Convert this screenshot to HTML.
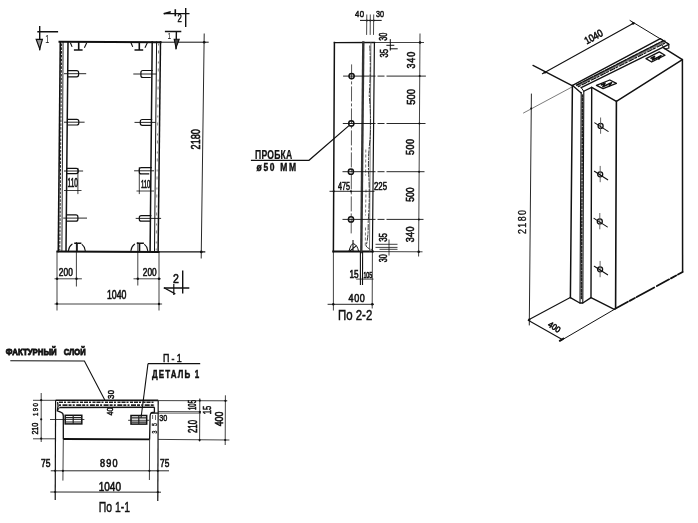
<!DOCTYPE html>
<html><head><meta charset="utf-8">
<style>
html,body{margin:0;padding:0;background:#fff;width:698px;height:523px;overflow:hidden}
svg{display:block;will-change:transform}
text{font-family:"Liberation Sans",sans-serif;fill:#111}

</style></head>
<body>
<svg width="698" height="523" viewBox="0 0 698 523">

<g fill="none" stroke="#111" stroke-linecap="square">

<!-- ============ LEFT ELEVATION ============ -->
<!-- outline -->
<path d="M59.5 41.8 L160.5 42.2" stroke-width="2"/>
<path d="M57.5 251.4 L158.5 251.9" stroke-width="2"/>
<path d="M160.5 42.2 L208.2 42.2" stroke-width="1"/>
<path d="M158.5 251.9 L204.7 251.9" stroke-width="1.2"/>
<path d="M60.3 41.8 L58.3 251.4" stroke-width="1.6"/>
<path d="M63.1 42 L61.9 251" stroke-width="0.9"/>
<path d="M61.6 44 L59.8 250" stroke-width="1" stroke-dasharray="1.6 2.2" stroke="#222"/>
<path d="M68 42 L66 251" stroke-width="1.5"/>
<path d="M152.2 42 L150.1 251" stroke-width="1.5"/>
<path d="M156.6 42 L154.5 251" stroke-width="1"/>
<path d="M158.6 44 L156.2 250" stroke-width="0.8" stroke-dasharray="1 6 2 9" stroke="#666"/>
<path d="M160.5 42 L158.1 251.5" stroke-width="1.5"/>

<!-- right vertical dim -->
<path d="M204.2 34 L201.2 258" stroke-width="0.9"/>
<g fill="#111" stroke="none"><circle cx="204.2" cy="42.3" r="1.3"/><circle cx="201.3" cy="251.9" r="1.3"/></g>

<!-- top anchors -->
<path d="M78.7 42.7 L78.7 50 M74.7 50 L81.8 50" stroke-width="1.6"/>
<path d="M70.6 43.2 L71.9 46.4 M86.5 43.2 L84.6 47.3" stroke-width="1.1"/>
<path d="M139.3 42.7 L139.3 50 M135.3 50 L142.4 50" stroke-width="1.6"/>
<path d="M131.2 43.2 L132.5 46.4 M147.1 43.2 L145.2 47.3" stroke-width="1.1"/>
<!-- bottom anchors -->
<path d="M77 243.5 L77 251 M75 243.2 L80.6 243.2" stroke-width="1.6"/>
<path d="M68.5 250.5 Q69 246.2 72 244.2 M82.2 244.6 Q84.8 246.5 85.2 250.5" stroke-width="1.1"/>
<path d="M139.5 243.5 L139.5 251 M137.5 243.2 L143.1 243.2" stroke-width="1.6"/>
<path d="M131 250.5 Q131.5 246.2 134.5 244.2 M144.7 244.6 Q147.3 246.5 147.7 250.5" stroke-width="1.1"/>

<!-- sockets -->
<path d="M68.3 70.6 L76.6 70.6 Q78.6 70.6 78.6 72.6 L78.6 74.8 Q78.6 76.8 76.6 76.8 L68.3 76.8" stroke-width="1.2" stroke-dasharray="4 1.2 20"/>
<path d="M64.5 73.7 L85.7 73.7" stroke-width="0.9"/>
<path d="M68.0 119.3 L76.8 119.3 Q78.8 119.3 78.8 121.3 L78.8 123.0 Q78.8 125.0 76.8 125.0 L68.0 125.0" stroke-width="1.2" stroke-dasharray="4 1.2 20"/>
<path d="M64.5 122.2 L84.1 122.2" stroke-width="0.9"/>
<path d="M67.4 168.4 L76.2 168.4 Q78.2 168.4 78.2 170.4 L78.2 171.6 Q78.2 173.6 76.2 173.6 L67.4 173.6" stroke-width="1.2" stroke-dasharray="4 1.2 20"/>
<path d="M64.5 171.0 L82.6 171.0" stroke-width="0.9"/>
<path d="M67.0 214.9 L75.9 214.9 Q77.9 214.9 77.9 216.9 L77.9 219.2 Q77.9 221.2 75.9 221.2 L67.0 221.2" stroke-width="1.2" stroke-dasharray="4 1.2 20"/>
<path d="M63.7 218.1 L86.5 218.1" stroke-width="0.9"/>
<path d="M152.2 70.5 L142.9 70.5 Q140.9 70.5 140.9 72.5 L140.9 75.5 Q140.9 77.5 142.9 77.5 L152.2 77.5" stroke-width="1.2" stroke-dasharray="4 1.2 20"/>
<path d="M133.8 74.0 L156 74.0" stroke-width="0.9"/>
<path d="M151.6 119.5 L142.3 119.5 Q140.3 119.5 140.3 121.5 L140.3 123.3 Q140.3 125.3 142.3 125.3 L151.6 125.3" stroke-width="1.2" stroke-dasharray="4 1.2 20"/>
<path d="M135 122.4 L155.1 122.4" stroke-width="0.9"/>
<path d="M151.2 167.6 L141.3 167.6 Q139.3 167.6 139.3 169.6 L139.3 171.9 Q139.3 173.9 141.3 173.9 L151.2 173.9" stroke-width="1.2" stroke-dasharray="4 1.2 20"/>
<path d="M134.6 170.8 L153.5 170.8" stroke-width="0.9"/>
<path d="M150.8 215.7 L141.3 215.7 Q139.3 215.7 139.3 217.7 L139.3 219.2 Q139.3 221.2 141.3 221.2 L150.8 221.2" stroke-width="1.2" stroke-dasharray="4 1.2 20"/>
<path d="M136.2 218.4 L160.6 218.4" stroke-width="0.9"/>
<!-- 110 dims -->
<path d="M77.9 168.4 L77.9 193.6 M64.5 190.5 L81 190.5" stroke-width="0.8"/>
<path d="M139.3 167.6 L139.3 193.6 M137 191 L153.5 191" stroke-width="0.8"/>

<!-- bottom dims -->
<path d="M57 251.4 L57 310 M159 251.6 L159 310" stroke-width="0.8"/>
<path d="M76.4 242.5 L76.4 286 M137.8 242.5 L137.8 285" stroke-width="0.8"/>
<path d="M55 278.8 L81.4 278.8 M134 278.8 L160.3 278.8" stroke-width="0.8"/>
<path d="M55 304 L161.6 304" stroke-width="0.8"/>
<g fill="#111" stroke="none"><circle cx="57.1" cy="278.7" r="1.2"/><circle cx="76.5" cy="278.7" r="1.2"/><circle cx="137.8" cy="278.7" r="1.2"/><circle cx="159" cy="278.7" r="1.2"/><circle cx="57" cy="303.8" r="1.2"/><circle cx="159" cy="304" r="1.2"/></g>

<!-- section marks -->
<path d="M39.7 26.7 L39.7 49.5 M38 31.7 L57.4 31.7" stroke-width="1.4"/>
<path d="M36.2 39.4 L42.4 39.4 L39.7 48.8 Z" stroke-width="1.2" fill="#999"/>
<path d="M164.5 13.6 L188.8 13.6 M185.7 8.6 L185.7 26.2" stroke-width="1.4"/>
<path d="M164.5 13.6 L170 12 M175.3 10 L175.3 15.5" stroke-width="1.6"/>
<path d="M165.6 31.5 L180.6 31.5 M176.4 31.5 L176.1 48.5" stroke-width="1.4"/>
<path d="M174.2 39.2 L179.2 39.2 L176 47.8 Z" stroke-width="1.1" fill="#444"/>
<path d="M182.7 271.2 L182.7 292.7 M164.5 288 L188.6 288" stroke-width="1.4"/>
<path d="M164.5 288 L174.8 293.6 M173.8 284.5 L173.8 294.5" stroke-width="1.2"/>
</g>

<!-- left elevation texts -->



<!-- ============ MIDDLE SECTION 2-2 ============ -->
<g fill="none" stroke="#111" stroke-linecap="square">
<path d="M334.5 42.6 L374.5 42.5" stroke-width="1.4"/>
<path d="M374.5 42.5 L423.5 42.5" stroke-width="0.8"/>
<path d="M333.3 251.6 L372.8 251.6" stroke-width="2"/>
<path d="M372.8 251.6 L422 251.8" stroke-width="0.8"/>
<path d="M334.4 42.6 L333.4 251.6" stroke-width="1.5"/>
<path d="M333.4 251.6 L333.4 310" stroke-width="0.8"/>
<!-- strip -->
<path d="M363.3 42.5 L361.3 252" stroke-width="2.4" stroke="#333"/>
<path d="M360.4 252 L360.4 284.5" stroke-width="1.1"/>
<path d="M370.9 42.5 L369.5 251" stroke-width="0.8" stroke="#555"/>
<path d="M374.4 42.5 L372.4 252" stroke-width="1.2"/>
<path d="M362.6 252 L362.5 284.5" stroke-width="1.1"/>
<path d="M372.4 252 L372.2 308" stroke-width="0.8"/>
<path d="M369.8 46 Q371 70 369.2 95 Q371.5 120 370 140 Q367.5 160 369 180 Q369.8 200 368.2 222 Q368.5 238 366 246 Q368 249 372 249.5" stroke-width="1" stroke-dasharray="5 2 1.5 2" stroke="#333"/>
<path d="M365.8 150 L365.6 175 M366 190 L365.5 215 M365.5 228 L365.3 245" stroke-width="0.8" stroke-dasharray="2 3" stroke="#555"/>
<!-- right dim -->
<path d="M420 34 L418.6 256" stroke-width="0.8"/>
<g fill="#111" stroke="none"><circle cx="420" cy="42.5" r="1.3"/><circle cx="418.7" cy="251.8" r="1.3"/><circle cx="419.7" cy="76.1" r="1"/><circle cx="419.4" cy="123.5" r="1"/><circle cx="419.1" cy="171.7" r="1"/><circle cx="418.9" cy="219.4" r="1"/></g>
<!-- hole lines -->
<g stroke-width="0.9">
<path d="M343.6 76.1 L375 76.1 M378 76.1 L384 76.1 M387 76.1 L425.4 76.1"/>
<path d="M343.3 123.5 L375 123.5 M378 123.5 L384 123.5 M387 123.5 L425 123.5"/>
<path d="M343 171.7 L375 171.7 M378 171.7 L384 171.7 M387 171.7 L424 171.7"/>
<path d="M343 219.4 L375 219.4 M378 219.4 L384 219.4 M387 219.4 L423 219.4"/>
<path d="M351.6 64.9 L351.2 234" stroke-dasharray="14 3 2 3" stroke-width="0.7"/>
</g>
<g stroke-width="1.5">
<circle cx="351.6" cy="76.1" r="2.6" fill="none"/>
<circle cx="351.3" cy="123.4" r="2.6" fill="none"/>
<circle cx="350.9" cy="171.7" r="2.6" fill="none"/>
<circle cx="351" cy="219.4" r="2.6" fill="none"/>
</g>
<!-- leader probka -->
<path d="M251.5 160.3 L309 160.3 L348.5 126" stroke-width="1.2"/>
<!-- anchor bottom -->
<path d="M349 251 Q351 243.5 353.5 243.7 Q357.5 245 358.5 251" stroke-width="1"/>
<path d="M353 240.5 L353 251 M350 251 L356 246" stroke-width="1.1"/>
<!-- top dims 40/30 -->
<path d="M360.5 20.4 L381.2 20.4" stroke-width="1"/>
<g fill="#111" stroke="none"><circle cx="366.8" cy="20.4" r="1"/><circle cx="370.3" cy="20.4" r="1"/><circle cx="373.7" cy="20.4" r="1"/></g>
<path d="M366.8 15 L366.6 34.4 M370.3 15 L370.2 34.4 M373.7 15 L373.5 34.4" stroke-width="0.9" stroke="#333"/>
<!-- small dims right of top -->
<path d="M390.3 39.6 L390.3 50 M386.9 45.3 L393.8 45.3 M390.3 48.8 L397.2 48.8" stroke-width="1"/>
<path d="M376 244.3 L397 244.3 M376 247.4 L397 247.4 M380 249.3 L397 249.3 M389 240 L389 255" stroke-width="0.8"/>
<!-- bottom dims -->
<path d="M356.7 279.1 L373 279.1" stroke-width="0.8"/>
<path d="M328.1 304.3 L373.4 304.3" stroke-width="0.9"/>
<g fill="#111" stroke="none"><circle cx="333.3" cy="304.3" r="1.2"/><circle cx="372.3" cy="304.3" r="1.2"/></g>
<path d="M330 191.3 L374 191.3" stroke-width="0.9"/>
<g fill="#111" stroke="none"><circle cx="333.7" cy="191.3" r="1.1"/><circle cx="351" cy="191.3" r="1.1"/></g>
</g>



<!-- ============ SECTION 1-1 ============ -->
<g fill="none" stroke="#111" stroke-linecap="butt">
<!-- leaders -->
<path d="M10.3 360.8 L84.4 361 L104.8 400" stroke-width="1.1"/>
<path d="M148 363.6 L200.2 363.6" stroke-width="1.2"/>
<path d="M148 363.6 L141 418" stroke-width="1.1"/>
<!-- top line -->
<path d="M55.6 400.3 L158.2 400.4" stroke-width="1.6"/>
<path d="M33 400.3 L55.6 400.3 M158.2 400.6 L227.3 400.8" stroke-width="0.8"/>
<!-- layer -->
<path d="M59.5 407.5 L154.4 407.3" stroke-width="1.4"/>
<path d="M59 402.3 L155 402.3" stroke-width="1.5" stroke-dasharray="4 1 2 1.5 3 1" stroke="#222"/>
<path d="M59 405.2 L155 405.2" stroke-width="1.7" stroke-dasharray="2 1.5 5 1 3 1.2" stroke="#222"/>
<!-- left outline -->
<path d="M55.6 400.3 L55.2 500" stroke-width="1.2"/>
<!-- left rib -->
<path d="M57.6 402 Q58.8 406 57.3 410.9 L60.7 412.2 Q63.3 413 63.3 416 L63.3 439" stroke-width="1.3"/>
<path d="M63.3 439 L62.9 480.6" stroke-width="0.8"/>
<path d="M59.5 407.5 Q58.2 409 57.6 410.5" stroke-width="1"/>
<!-- bottom line -->
<path d="M63.3 439 L149.6 439.4" stroke-width="1.8"/>
<path d="M33 438.8 L55.4 438.8 M158.2 439.4 L229.4 440" stroke-width="0.8"/>
<!-- right outline -->
<path d="M158.2 400.4 L157.8 501" stroke-width="1.2"/>
<!-- right rib -->
<path d="M154.4 407.3 L154.4 412.2 L151.5 412.7 Q150.1 413.5 150.1 416 L149.6 439.4" stroke-width="1.3"/>
<path d="M150.6 413.1 L158.2 413.1" stroke-width="1.3"/>
<path d="M149.6 439.4 L149.4 480" stroke-width="0.8"/>
<path d="M158.2 411.5 L201 411.7 M158.2 413.1 L201 413.1" stroke-width="0.7"/>
<path d="M152.6 415 L152.6 419 M155.5 415 L155.5 420" stroke-width="0.8" stroke="#444"/>
<!-- sockets -->
<g stroke-width="1.5">
<rect x="65.2" y="415.3" width="16.6" height="8.6"/>
<rect x="131" y="415.5" width="15.7" height="8.6"/>
</g>
<g stroke-width="1.2" stroke="#222">
<path d="M65.5 417.6 L81.5 417.6 M65.5 422 L81.5 422 M73.2 415.3 L73.2 424"/>
<path d="M131.3 417.8 L146.4 417.8 M131.3 422.2 L146.4 422.2 M138.8 415.5 L138.8 424.1"/>
</g>
<path d="M50 419.5 L84.4 419.5" stroke-width="0.8"/>
<path d="M128.1 420.3 L149.1 420.3" stroke-width="0.8"/>
<!-- left dims -->
<path d="M41.2 393 L41.2 442" stroke-width="0.8"/>
<!-- right dims -->
<path d="M199.8 398.4 L199.6 441.5 M225.4 395.3 L225.2 445" stroke-width="0.8"/>
<!-- bottom dims -->
<path d="M50.8 470.8 L169 470.8" stroke-width="0.9"/>
<path d="M50.3 492 L161 492.2" stroke-width="0.9"/>
</g>
<g fill="#111" stroke="none">
<circle cx="41.2" cy="400.2" r="1.1"/><circle cx="41.2" cy="419.3" r="1.1"/><circle cx="41.2" cy="438.6" r="1.1"/>
<circle cx="199.8" cy="400.6" r="1.1"/><circle cx="199.8" cy="412" r="1.1"/><circle cx="199.6" cy="440" r="1.1"/>
<circle cx="225.4" cy="400.8" r="1.1"/><circle cx="225.2" cy="440" r="1.1"/>
<circle cx="55.2" cy="470.8" r="1.1"/><circle cx="62.9" cy="470.8" r="1.1"/><circle cx="149.4" cy="470.8" r="1.1"/><circle cx="157.8" cy="470.8" r="1.1"/>
<circle cx="55.2" cy="492" r="1.1"/><circle cx="157.8" cy="492.2" r="1.1"/>
</g>

<!-- ============ 3D VIEW ============ -->
<g fill="none" stroke="#111" stroke-linecap="round" stroke-linejoin="round">
<!-- dim 1040 -->
<path d="M542.4 73.7 L633.9 22.9" stroke-width="1.1"/>
<path d="M533 65.4 L572.6 85.8" stroke-width="1.3"/>
<path d="M630 20.5 L668.8 44" stroke-width="1"/>
<g fill="#111" stroke="none"><circle cx="545" cy="72.2" r="1.3"/><circle cx="633.2" cy="23.3" r="1.4"/></g>
<!-- height dim -->
<path d="M531.4 94 L529.3 325" stroke-width="0.9"/>
<path d="M523.5 113 L572 87" stroke-width="0.7" stroke="#444"/>
<circle cx="531.2" cy="108.5" r="1" fill="#111" stroke="none"/>
<!-- 400 dim -->
<path d="M528.2 320.2 L562.2 339.6" stroke-width="1.1"/>
<path d="M529.2 319.6 L569.8 297.7" stroke-width="1.1"/>
<path d="M561.4 340.3 L615 309" stroke-width="1"/>
<path d="M559.8 340.8 L563.5 338.5" stroke-width="2"/>
<circle cx="529.3" cy="319.8" r="1.2" fill="#111" stroke="none"/>
<!-- front left vertical -->
<path d="M572.4 85.6 L570.4 297.7" stroke-width="1.5"/>
<!-- top face -->
<path d="M572.6 85.4 L660.3 38.6" stroke-width="1.3"/>
<path d="M581.2 87.6 L668.8 44.3" stroke-width="1.3"/>
<path d="M577.5 85.2 L664.5 41.2" stroke-width="2.6" stroke="#777"/>
<path d="M576.5 85.2 L663.5 40.6" stroke-width="1.3" stroke-dasharray="3 1 2 1.5 4 1" stroke="#111"/>
<path d="M578.5 86.6 L666 42.6" stroke-width="1.2" stroke-dasharray="2 2 3 1 1 1.5" stroke="#111"/>
<path d="M660.3 38.6 L668.8 44.3 L668.8 48.3" stroke-width="1.2"/>
<path d="M662 45 L664.5 49 L668 48.3" stroke-width="0.9"/>
<path d="M572.6 85.4 L581.2 92.9" stroke-width="1.3"/>
<path d="M583.7 91.2 L591.7 87.4" stroke-width="1.2"/>
<path d="M581.2 87.6 L583.7 91.2" stroke-width="1"/>
<!-- groove -->
<path d="M581.2 92.5 L580 303" stroke-width="1.1"/>
<path d="M583.8 91.5 L582.8 303" stroke-width="1.1"/>
<path d="M582.5 95 L581.4 300" stroke-width="1.5" stroke-dasharray="2 1.6" stroke="#222"/>
<!-- inner block -->
<path d="M591.7 87.4 L591 297.7" stroke-width="1.4"/>
<path d="M591.7 87.4 L616.4 101.3 L682.4 59.6 L664 48.1" stroke-width="1.5"/>
<path d="M616.4 101.3 L615.6 308.5" stroke-width="1.6"/>
<path d="M682.4 59.6 L682.6 272" stroke-width="1.5"/>
<!-- bottom -->
<path d="M570.4 297.7 L579.8 303 L582.8 303 L591 297.7 L614.3 309.3 L615.6 308.5" stroke-width="1.4"/>
<path d="M615.6 308.5 L682.6 272" stroke-width="1.8" stroke-dasharray="14 2 6 2 20 3"/>
<!-- recesses -->
<path d="M596.4 85.3 L609.8 80 L616.4 83.4 L603.1 88.7 Z" stroke-width="1.3"/>
<path d="M601.5 84.8 L605 83.2 L602.8 86.8 L607.6 84.6 M608.6 84 L611.6 82.6 L609.4 85.8" stroke-width="1.6"/>
<path d="M646 58.6 L659.3 51.9 L665 55.2 L651.7 62 Z" stroke-width="1.3"/>
<path d="M651 58.2 L654.5 56.4 L652.4 60 L657 57.8 M658 57.2 L661 55.6 L658.8 59" stroke-width="1.6"/>
<!-- weld plates -->
<g stroke-width="1.3">
<circle cx="600.6" cy="125.9" r="2.5"/>
<path d="M600.6 117.9 L600.6 133.4" stroke-width="0.9" stroke="#555"/>
<path d="M594.8 122.9 L608.1 131.4" stroke-width="1.1"/>
<circle cx="600.2" cy="174.3" r="2.5"/>
<path d="M600.2 166.3 L600.2 181.8" stroke-width="0.9" stroke="#555"/>
<path d="M594.4 171.3 L607.7 179.8" stroke-width="1.1"/>
<circle cx="599.8" cy="221.4" r="2.5"/>
<path d="M599.8 213.4 L599.8 228.9" stroke-width="0.9" stroke="#555"/>
<path d="M594.0 218.4 L607.3 226.9" stroke-width="1.1"/>
<circle cx="600.1" cy="269.3" r="2.5"/>
<path d="M600.1 261.3 L600.1 276.8" stroke-width="0.9" stroke="#555"/>
<path d="M594.3 266.3 L607.6 274.8" stroke-width="1.1"/>
</g>
</g>



<g>
<text transform="translate(200.20,149.40) rotate(-90)" font-size="12.50" font-weight="normal" textLength="20.20" lengthAdjust="spacingAndGlyphs" stroke="#111" stroke-width="0.65" >2180</text>
<text transform="translate(67.60,187.30)" font-size="12.08" font-weight="normal" textLength="10.30" lengthAdjust="spacingAndGlyphs" stroke="#111" stroke-width="0.65" >110</text>
<text transform="translate(140.90,188.10)" font-size="10.97" font-weight="normal" textLength="9.40" lengthAdjust="spacingAndGlyphs" stroke="#111" stroke-width="0.6" >110</text>
<text transform="translate(58.80,276.30) scale(0.8,1)" font-size="10.42" font-weight="normal" textLength="17.75" lengthAdjust="spacing" stroke="#111" stroke-width="0.57" >200</text>
<text transform="translate(142.80,276.30)" font-size="10.42" font-weight="normal" textLength="13.80" lengthAdjust="spacingAndGlyphs" stroke="#111" stroke-width="0.57" >200</text>
<text transform="translate(107.00,299.00)" font-size="12.50" font-weight="normal" textLength="19.50" lengthAdjust="spacingAndGlyphs" stroke="#111" stroke-width="0.65" >1040</text>
<text transform="translate(45.20,43.40)" font-size="11.11" font-weight="normal" textLength="4.00" lengthAdjust="spacingAndGlyphs" >1</text>
<text transform="translate(167.60,38.80) scale(0.8,1)" font-size="8.19" font-weight="normal" textLength="5.75" lengthAdjust="spacing" >1</text>
<text transform="translate(177.50,22.40)" font-size="11.25" font-weight="normal" textLength="4.30" lengthAdjust="spacingAndGlyphs" stroke="#111" stroke-width="0.5" >2</text>
<text transform="translate(173.00,282.80) scale(0.8,1)" font-size="13.19" font-weight="normal" textLength="7.50" lengthAdjust="spacing" stroke="#111" stroke-width="0.65" >2</text>
<text transform="translate(355.00,17.00) scale(0.8,1)" font-size="9.72" font-weight="normal" textLength="11.25" lengthAdjust="spacing" stroke="#111" stroke-width="0.53" >40</text>
<text transform="translate(376.00,17.00)" font-size="9.72" font-weight="normal" textLength="8.00" lengthAdjust="spacingAndGlyphs" stroke="#111" stroke-width="0.53" >30</text>
<text transform="translate(387.00,40.80) rotate(-90)" font-size="11.11" font-weight="normal" textLength="8.20" lengthAdjust="spacingAndGlyphs" stroke="#111" stroke-width="0.61" >30</text>
<text transform="translate(387.80,57.50) rotate(-90)" font-size="10.14" font-weight="normal" textLength="8.50" lengthAdjust="spacingAndGlyphs" stroke="#111" stroke-width="0.56" >35</text>
<text transform="translate(414.90,68.60) rotate(-90) scale(0.8,1)" font-size="11.25" font-weight="normal" textLength="21.00" lengthAdjust="spacing" stroke="#111" stroke-width="0.62" >340</text>
<text transform="translate(414.80,104.70) rotate(-90)" font-size="11.81" font-weight="normal" textLength="15.50" lengthAdjust="spacingAndGlyphs" stroke="#111" stroke-width="0.65" >500</text>
<text transform="translate(414.30,155.10) rotate(-90) scale(0.8,1)" font-size="11.25" font-weight="normal" textLength="20.00" lengthAdjust="spacing" stroke="#111" stroke-width="0.62" >500</text>
<text transform="translate(414.30,201.80) rotate(-90)" font-size="11.81" font-weight="normal" textLength="14.30" lengthAdjust="spacingAndGlyphs" stroke="#111" stroke-width="0.65" >500</text>
<text transform="translate(413.70,242.20) rotate(-90) scale(0.8,1)" font-size="11.25" font-weight="normal" textLength="19.50" lengthAdjust="spacing" stroke="#111" stroke-width="0.62" >340</text>
<text transform="translate(338.00,190.40)" font-size="10.28" font-weight="normal" textLength="12.00" lengthAdjust="spacingAndGlyphs" stroke="#111" stroke-width="0.57" >475</text>
<text transform="translate(374.00,190.40)" font-size="10.28" font-weight="normal" textLength="13.00" lengthAdjust="spacingAndGlyphs" stroke="#111" stroke-width="0.57" >225</text>
<text transform="translate(387.20,241.80) rotate(-90)" font-size="10.42" font-weight="normal" textLength="8.80" lengthAdjust="spacingAndGlyphs" stroke="#111" stroke-width="0.57" >35</text>
<text transform="translate(387.20,262.30) rotate(-90)" font-size="10.42" font-weight="normal" textLength="8.10" lengthAdjust="spacingAndGlyphs" stroke="#111" stroke-width="0.57" >30</text>
<text transform="translate(349.50,277.60)" font-size="10.83" font-weight="normal" textLength="9.10" lengthAdjust="spacingAndGlyphs" stroke="#111" stroke-width="0.6" >15</text>
<text transform="translate(363.40,277.60)" font-size="9.00" font-weight="normal" textLength="8.90" lengthAdjust="spacingAndGlyphs" stroke="#111" stroke-width="0.6" >105</text>
<text transform="translate(348.60,301.70) scale(0.8,1)" font-size="11.25" font-weight="normal" textLength="20.25" lengthAdjust="spacing" stroke="#111" stroke-width="0.62" >400</text>
<text transform="translate(338.00,320.30)" font-size="13.89" font-weight="normal" textLength="34.30" lengthAdjust="spacingAndGlyphs" stroke="#111" stroke-width="0.45" >По 2-2</text>
<text transform="translate(255.00,159.40) scale(0.72,1)" font-size="11.94" font-weight="bold" textLength="51.81" lengthAdjust="spacing" stroke="#111" stroke-width="0.25" >ПРОБКА</text>
<text transform="translate(256.60,170.90) scale(0.85,1)" font-size="10.00" font-weight="bold" textLength="46.35" lengthAdjust="spacing" stroke="#111" stroke-width="0.4" >ø50 ММ</text>
<text transform="translate(5.80,354.80)" font-size="9.72" font-weight="bold" textLength="50.90" lengthAdjust="spacingAndGlyphs" stroke="#111" stroke-width="0.9" >ФАКТУРНЫЙ</text>
<text transform="translate(63.80,354.80)" font-size="9.72" font-weight="bold" textLength="21.90" lengthAdjust="spacingAndGlyphs" stroke="#111" stroke-width="0.9" >СЛОЙ</text>
<text transform="translate(163.00,361.50) scale(0.8,1)" font-size="11.11" font-weight="normal" textLength="23.25" lengthAdjust="spacing" stroke="#111" stroke-width="0.5" >П-1</text>
<text transform="translate(152.00,378.00) scale(0.72,1)" font-size="11.11" font-weight="bold" textLength="65.56" lengthAdjust="spacing" stroke="#111" stroke-width="0.5" >ДЕТАЛЬ 1</text>
<text transform="translate(37.90,416.00) rotate(-90) scale(0.8,1)" font-size="7.64" font-weight="normal" textLength="16.12" lengthAdjust="spacing" stroke="#111" stroke-width="0.42" >190</text>
<text transform="translate(38.40,434.60) rotate(-90)" font-size="8.89" font-weight="normal" textLength="11.90" lengthAdjust="spacingAndGlyphs" stroke="#111" stroke-width="0.49" >210</text>
<text transform="translate(195.80,410.00) rotate(-90)" font-size="10.28" font-weight="normal" textLength="10.00" lengthAdjust="spacingAndGlyphs" stroke="#111" stroke-width="0.57" >105</text>
<text transform="translate(196.80,433.10) rotate(-90)" font-size="12.36" font-weight="normal" textLength="13.10" lengthAdjust="spacingAndGlyphs" stroke="#111" stroke-width="0.65" >210</text>
<text transform="translate(210.50,414.20) rotate(-90)" font-size="10.97" font-weight="normal" textLength="8.40" lengthAdjust="spacingAndGlyphs" stroke="#111" stroke-width="0.6" >15</text>
<text transform="translate(223.10,426.30) rotate(-90)" font-size="10.97" font-weight="normal" textLength="14.70" lengthAdjust="spacingAndGlyphs" stroke="#111" stroke-width="0.6" >400</text>
<text transform="translate(159.30,420.80)" font-size="8.89" font-weight="normal" textLength="8.00" lengthAdjust="spacingAndGlyphs" stroke="#111" stroke-width="0.49" >30</text>
<text transform="translate(157.20,433.40) rotate(-90) scale(0.8,1)" font-size="6.53" font-weight="normal" textLength="13.00" lengthAdjust="spacing" stroke="#111" stroke-width="0.36" >35</text>
<text transform="translate(113.40,415.60) rotate(-90)" font-size="9.58" font-weight="normal" textLength="8.00" lengthAdjust="spacingAndGlyphs" stroke="#111" stroke-width="0.53" >40</text>
<text transform="translate(114.00,399.00) rotate(-90) scale(0.8,1)" font-size="9.72" font-weight="normal" textLength="11.50" lengthAdjust="spacing" stroke="#111" stroke-width="0.53" >30</text>
<text transform="translate(41.00,467.00)" font-size="11.39" font-weight="normal" textLength="9.50" lengthAdjust="spacingAndGlyphs" stroke="#111" stroke-width="0.63" >75</text>
<text transform="translate(100.00,467.00) scale(0.8,1)" font-size="11.39" font-weight="normal" textLength="21.88" lengthAdjust="spacing" stroke="#111" stroke-width="0.63" >890</text>
<text transform="translate(160.00,467.00)" font-size="11.39" font-weight="normal" textLength="9.30" lengthAdjust="spacingAndGlyphs" stroke="#111" stroke-width="0.63" >75</text>
<text transform="translate(98.70,490.50)" font-size="13.19" font-weight="normal" textLength="22.30" lengthAdjust="spacingAndGlyphs" stroke="#111" stroke-width="0.65" >1040</text>
<text transform="translate(98.70,511.70)" font-size="14.86" font-weight="normal" textLength="31.30" lengthAdjust="spacingAndGlyphs" stroke="#111" stroke-width="0.45" >По 1-1</text>
<text transform="translate(586.8,44.6) rotate(-29)" font-size="10.3" font-weight="normal" textLength="19.5" lengthAdjust="spacingAndGlyphs" stroke="#111" stroke-width="0.6">1040</text>
<text transform="translate(525.50,234.00) rotate(-90) scale(0.8,1)" font-size="11.11" font-weight="normal" textLength="30.00" lengthAdjust="spacing" stroke="#111" stroke-width="0.35" >2180</text>
<text transform="translate(547.3,326) rotate(33)" font-size="8.5" font-weight="normal" textLength="13" lengthAdjust="spacingAndGlyphs" stroke="#111" stroke-width="0.6">400</text>
</g>
</svg>
</body></html>
